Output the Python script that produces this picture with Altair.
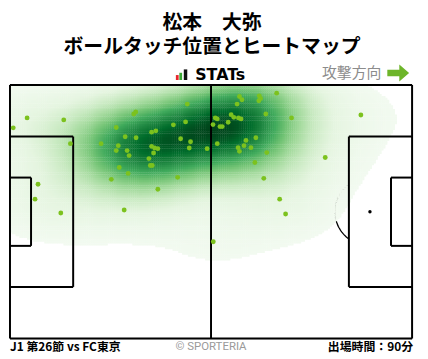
import altair as alt
import numpy as np
import pandas as pd

# ---- data: ball touch positions (pitch metres, x: 0-105 attacking right, y: 0-68 from top) ----
touch_x = [0.85, 4.47, 14.04, 15.78, 7.32, 6.54, 13.27, 23.79, 27.75, 32.33, 32.84, 46.29, 42.67,
           45.85, 36.98, 38.09, 30.08, 32.92, 28.27, 27.75, 30.59, 31.11, 36.98, 37.76, 38.61, 37.5,
           36.28, 36.65, 37.16, 28.53, 30.85, 26.46, 44.56, 47.15, 46.81, 51.47, 43.78, 38.61, 29.82,
           59.92, 60.59, 65.09, 65.43, 64.99, 69.64, 59.3, 66.8, 73.52, 91.63, 53.61, 54.13, 57.75,
           58.45, 59.66, 60.33, 56.97, 53.02, 54.83, 55.42, 54.13, 61.63, 64.21, 59.56, 61.11, 59.92,
           62.92, 67.06, 63.95, 82.32, 66.28, 70.42, 71.97, 53.09]
touch_y = [11.5, 8.85, 9.38, 15.75, 26.64, 30.63, 34.35, 15.75, 11.42, 7.78, 7.25, 5.13, 10.7,
           9.91, 12.67, 12.3, 13.89, 14.16, 16.28, 17.61, 17.61, 18.94, 16.47, 16.92, 17.08, 18.25,
           19.74, 21.6, 21.6, 22.13, 23.72, 25.31, 14.42, 15.22, 16.92, 17.08, 24.78, 27.97, 33.55,
           3.11, 3.98, 2.92, 3.64, 4.25, 2.2, 5.13, 7.78, 8.85, 8.05, 8.85, 9.11, 7.97,
           8.69, 8.85, 9.11, 10.01, 10.63, 11.16, 11.16, 15.75, 14.88, 14.16, 16.81, 16.28, 17.8,
           16.81, 18.14, 20.8, 19.47, 25.05, 30.63, 34.61, 42.05]

title_name = "松本　大弥"
title_sub = "ボールタッチ位置とヒートマップ"
brand = "STATs"
direction_label = "攻撃方向"
footer_left = "J1 第26節 vs FC東京"
footer_mid = "© SPORTERIA"
footer_right = "出場時間：90分"

L, W = 105.0, 68.0

# ---- kernel density estimate of the touches (Gaussian KDE, diagonal bandwidth) ----
pts = np.vstack([touch_x, touch_y])
bw_x, bw_y = 11.0, 6.8
step = 0.5
gx = np.arange(step / 2, L, step)
gy = np.arange(step / 2, W, step)
GX, GY = np.meshgrid(gx, gy)
grid = np.vstack([GX.ravel(), GY.ravel()])
dx = (grid[0][:, None] - pts[0][None, :]) / bw_x
dy = (grid[1][:, None] - pts[1][None, :]) / bw_y
dens = np.exp(-(dx ** 2 + dy ** 2) / 2).sum(1)
dens = dens / dens.max()
thr = 0.035
keep = dens > thr
h = step * 0.6
heat = pd.DataFrame({
    "x0": np.round(grid[0][keep] - h, 2), "x1": np.round(grid[0][keep] + h, 2),
    "y0": np.round(grid[1][keep] - h, 2), "y1": np.round(grid[1][keep] + h, 2),
    "d": np.round(dens[keep], 4),
})

greens = ["#f2faf0", "#e5f5e0", "#c7e9c0", "#a1d99b", "#74c476",
          "#41ab5d", "#238b45", "#006d2c", "#00441b"]
stops = [round(thr + (1 - thr) * (i / 8), 4) for i in range(9)]

xs = alt.Scale(domain=[0, L], nice=False, zero=False)
ys = alt.Scale(domain=[W, 0], nice=False, zero=False)

# ---- pitch geometry ----
segs = [
    (0, 0, L, 0), (0, W, L, W), (0, 0, 0, W), (L, 0, L, W), (L / 2, 0, L / 2, W),
    (0, 13.84, 16.5, 13.84), (0, 54.16, 16.5, 54.16), (16.5, 13.84, 16.5, 54.16),
    (0, 24.84, 5.5, 24.84), (0, 43.16, 5.5, 43.16), (5.5, 24.84, 5.5, 43.16),
    (L, 13.84, L - 16.5, 13.84), (L, 54.16, L - 16.5, 54.16), (L - 16.5, 13.84, L - 16.5, 54.16),
    (L, 24.84, L - 5.5, 24.84), (L, 43.16, L - 5.5, 43.16), (L - 5.5, 24.84, L - 5.5, 43.16),
]
lines = pd.DataFrame(segs, columns=["x", "y", "x2", "y2"])

# only the right penalty arc and spot show in the reference (the rest lies under the heat map)
a1 = np.arccos(5.5 / 9.15)
arc_rows = []
for i, a in enumerate(np.linspace(-a1, a1, 40)):
    arc_rows.append({"i": i, "x": L - 11 - 9.15 * np.cos(a), "y": W / 2 + 9.15 * np.sin(a)})
arcs = pd.DataFrame(arc_rows)
spots = pd.DataFrame({"x": [L - 11], "y": [W / 2]})

arc_layer = alt.Chart(arcs).mark_line(color="black", strokeWidth=1.3).encode(
    x=alt.X("x:Q", scale=xs, axis=None), y=alt.Y("y:Q", scale=ys, axis=None),
    order="i:Q")
spot_layer = alt.Chart(spots).mark_circle(color="black", size=12, opacity=1).encode(
    x=alt.X("x:Q", scale=xs), y=alt.Y("y:Q", scale=ys))

heat_scale = alt.Scale(domain=stops, range=greens, zero=False, clamp=True)
heat_layer = alt.Chart(heat).mark_rect(clip=True, opacity=1, strokeWidth=0).encode(
    x=alt.X("x0:Q", scale=xs), x2="x1:Q",
    y=alt.Y("y0:Q", scale=ys), y2="y1:Q",
    color=alt.Color("d:Q", scale=heat_scale, legend=None))

line_layer = alt.Chart(lines).mark_rule(color="black", strokeWidth=2).encode(
    x=alt.X("x:Q", scale=xs), y=alt.Y("y:Q", scale=ys), x2="x2:Q", y2="y2:Q")

touch_df = pd.DataFrame({"x": touch_x, "y": touch_y})
point_layer = alt.Chart(touch_df).mark_circle(color="#7cc21e", size=24, opacity=1).encode(
    x=alt.X("x:Q", scale=xs), y=alt.Y("y:Q", scale=ys))

FONT = "Noto Sans CJK JP"


def txt(s, x, y, size, color="black", weight="bold", align="center", font=FONT, baseline="middle"):
    return alt.Chart(pd.DataFrame({"t": [s]})).mark_text(
        font=font, fontSize=size, fontWeight=weight, color=color, align=align, baseline=baseline
    ).encode(text="t:N", x=alt.value(x), y=alt.value(y))


texts = [
    txt(title_name, 204, -63, 20),
    txt(title_sub, 204, -38, 20),
    txt(brand, 187, -5, 16, font="DejaVu Sans", align="left", baseline="alphabetic"),
    txt(direction_label, 345, -12, 15, color="#8c8c8c", weight="normal"),
    txt(footer_left, 0, 265, 12, align="left"),
    txt(footer_mid, 203, 265, 11.5, color="#9a9a9a", weight="normal", font="Roboto"),
    txt(footer_right, 407, 265, 12, align="right"),
]

bars = pd.DataFrame({"x": [167.5, 171, 175.5], "x2": [170.3, 173.8, 179],
                     "y": [-10, -12.3, -15.7], "y2": [-5, -5, -5],
                     "c": ["#e8262b", "#3aa935", "#111111"]})
logo = alt.Chart(bars).mark_rect().encode(
    x=alt.X("x:Q", scale=None), x2="x2:Q", y=alt.Y("y:Q", scale=None), y2="y2:Q",
    color=alt.Color("c:N", scale=None))

arrow = alt.Chart(pd.DataFrame({"a": [1]})).mark_point(
    shape="M-1,-0.3L0.1,-0.3L0.1,-0.78L1,0L0.1,0.78L0.1,0.3L-1,0.3Z",
    filled=True, color="#6db52a", opacity=1, size=484, strokeWidth=0
).encode(x=alt.value(392), y=alt.value(-12))

chart = alt.layer(
    arc_layer, spot_layer, heat_layer, line_layer, point_layer, logo, arrow, *texts
).properties(
    width=406, height=256,
    autosize=alt.AutoSizeParams(type="none"),
    padding={"left": 2, "top": 76, "right": 8, "bottom": 18},
).configure_view(stroke=None).configure(background="white")

chart.save("out.html", embed_options={"renderer": "svg", "actions": False})
